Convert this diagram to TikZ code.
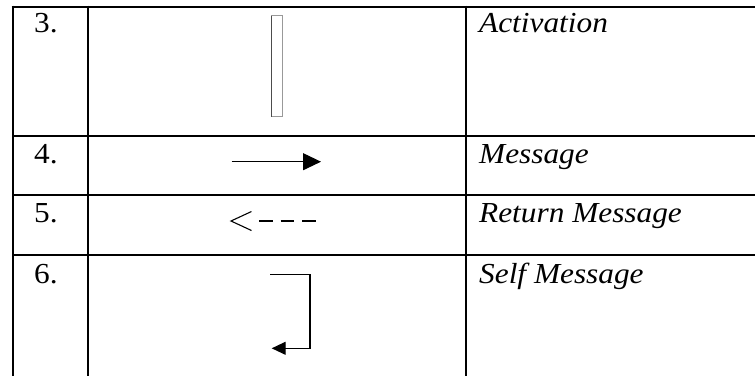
\documentclass[tikz,border=0pt]{standalone}
\usepackage{fontspec}
\setmainfont{Liberation Serif}
\usetikzlibrary{arrows.meta}

\tikzset{
  num/.style={anchor=base west, inner sep=0pt, font=\fontsize{29}{32}\selectfont},
  label/.style={num, font=\fontsize{29}{32}\selectfont\itshape},
  rule/.style={line width=2pt},
  sym/.style={line width=1.1pt},
}
\newcommand\wide[1]{\scalebox{1.08}[1]{#1}}

\begin{document}
\begin{tikzpicture}[x=1pt,y=-1pt]
  \useasboundingbox (0,0) rectangle (755,376);
  % table rules
  \draw[rule] (11.5,6.7) -- (755,6.7);
  \foreach \x in {12.5,88.3,465.7}
    \draw[rule] (\x,5.7) -- (\x,376);
  \foreach \y in {135.7,195,255}
    \draw[rule] (12.5,\y) -- (755,\y);

  % numbers
  \node[num] (n3) at (34,32.5) {\wide{3.}};
  \node[num] (n4) at (34,163) {\wide{4.}};
  \node[num] (n5) at (34,222) {\wide{5.}};
  \node[num] (n6) at (34,283) {\wide{6.}};

  % names
  \node[label] (activation) at (479,32.5) {\wide{Activation}};
  \node[label] (message) at (479,163) {\wide{Message}};
  \node[label] (return) at (479,222) {\wide{Return Message}};
  \node[label] (self) at (479,283) {\wide{Self Message}};

  % activation bar
  \draw[gray!80, line width=1pt] (271,15.5) rectangle (282.5,116.5);
  \draw[gray!60!black, line width=1pt] (271,15.5) -- (271,116.5);

  % message
  \coordinate (msgA) at (231.5,161.7);
  \coordinate (msgB) at (321,161.7);
  \draw[sym, -{Triangle[length=18pt,width=17pt]}] (msgA) -- (msgB);

  % return message
  \coordinate (retTip) at (231,221);
  \coordinate (retA) at (259,221);
  \coordinate (retB) at (316,221);
  \draw[sym] (251.5,211.5) -- (retTip) -- (251.5,230.5);
  \draw[sym, dash pattern=on 13.5pt off 8pt] (retA) -- (retB);

  % self message
  \coordinate (selfA) at (270,274.3);
  \coordinate (selfB) at (271.7,348.3);
  \draw[sym, -{Triangle[length=14pt,width=13pt]}]
    (selfA) -- (310,274.3) -- (310,348.3) -- (selfB);
\end{tikzpicture}
\end{document}
